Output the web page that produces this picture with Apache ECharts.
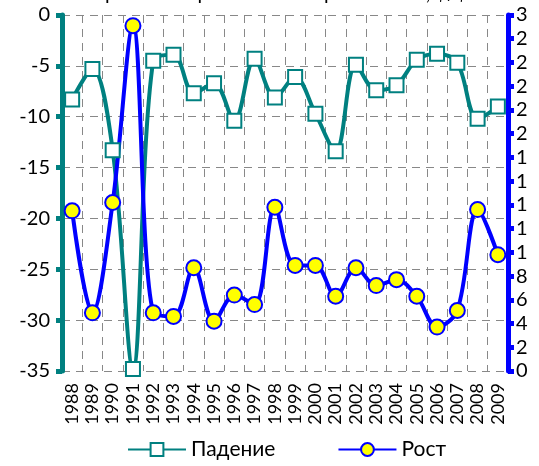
<!DOCTYPE html>
<html>
<head>
<meta charset="utf-8">
<script src="https://cdn.jsdelivr.net/npm/echarts@6/dist/echarts.min.js"></script>
<style>
    html, body { margin: 0; padding: 0; background: #fff; }
    #chart { width: 539px; height: 466px; }
</style>
</head>
<body>
<div id="chart"></div>
<script>
    var years = ['1988','1989','1990','1991','1992','1993','1994','1995','1996','1997','1998',
                 '1999','2000','2001','2002','2003','2004','2005','2006','2007','2008','2009'];

    // Падение, левая ось
    var fallData = [-8.3, -5.3, -13.3, -34.8, -4.5, -3.9, -7.7, -6.7, -10.4, -4.3, -8.1,
                    -6.1, -9.7, -13.4, -4.9, -7.4, -6.9, -4.4, -3.8, -4.7, -10.2, -9.0];

    // Рост, правая ось
    var riseData = [13.5, 4.9, 14.2, 29.1, 4.9, 4.6, 8.7, 4.2, 6.4, 5.6, 13.8,
                    8.9, 8.9, 6.3, 8.7, 7.2, 7.7, 6.3, 3.7, 5.1, 13.6, 9.8];

    var teal = '#008080';
    var blue = '#0000ff';
    var font = 'Lato, "Open Sans", sans-serif';

    var chart = echarts.init(document.getElementById('chart'));

    var option = {
        animation: false,
        title: {
            text: 'рост четырехлетней маржи в тонн, $/$',
            left: 100,
            top: -21,
            textStyle: { fontFamily: font, fontSize: 20, fontWeight: 'normal', color: '#000' }
        },
        grid: { left: 62, right: 31, top: 15, bottom: 95 },
        legend: {
            bottom: 1,
            left: 122,
            itemWidth: 58,
            itemHeight: 16,
            itemGap: 62,
            textStyle: { fontFamily: font, fontSize: 21, color: '#000' },
            data: ['Падение', 'Рост']
        },
        xAxis: {
            type: 'category',
            data: years,
            boundaryGap: true,
            axisLine: { show: false },
            axisTick: { show: false },
            axisLabel: {
                rotate: 90,
                interval: 0,
                margin: 12,
                fontFamily: font,
                fontSize: 18,
                color: '#000'
            },
            splitLine: {
                show: true,
                interval: 0,
                lineStyle: { color: '#888', type: [8, 6], width: 1 }
            }
        },
        yAxis: [
            {
                type: 'value',
                min: -35,
                max: 0,
                interval: 5,
                axisLine: { show: true, lineStyle: { color: teal, width: 5 } },
                axisTick: { show: true, length: 6, lineStyle: { color: teal, width: 5 } },
                axisLabel: { fontFamily: font, fontSize: 20, color: '#000', margin: 12 },
                splitLine: { lineStyle: { color: '#888', type: [8, 6], width: 1 } }
            },
            {
                type: 'value',
                min: 0,
                max: 30,
                interval: 2,
                position: 'right',
                axisLine: { show: true, lineStyle: { color: blue, width: 5 } },
                axisTick: { show: true, length: 6, lineStyle: { color: blue, width: 5 } },
                axisLabel: {
                    fontFamily: font, fontSize: 20, color: '#000', margin: 8,
                    formatter: function (v) { return String(v).charAt(0); }
                },
                splitLine: { show: false }
            }
        ],
        series: [
            {
                name: 'Падение',
                type: 'line',
                yAxisIndex: 0,
                data: fallData,
                smooth: 0.35,
                symbol: 'rect',
                symbolSize: 14,
                lineStyle: { color: teal, width: 4 },
                itemStyle: { color: '#fff', borderColor: teal, borderWidth: 2 }
            },
            {
                name: 'Рост',
                type: 'line',
                yAxisIndex: 1,
                data: riseData,
                smooth: 0.35,
                symbol: 'circle',
                symbolSize: 15,
                lineStyle: { color: blue, width: 4 },
                itemStyle: { color: '#ffff00', borderColor: blue, borderWidth: 2 }
            }
        ]
    };

    chart.setOption(option);
</script>
</body>
</html>
